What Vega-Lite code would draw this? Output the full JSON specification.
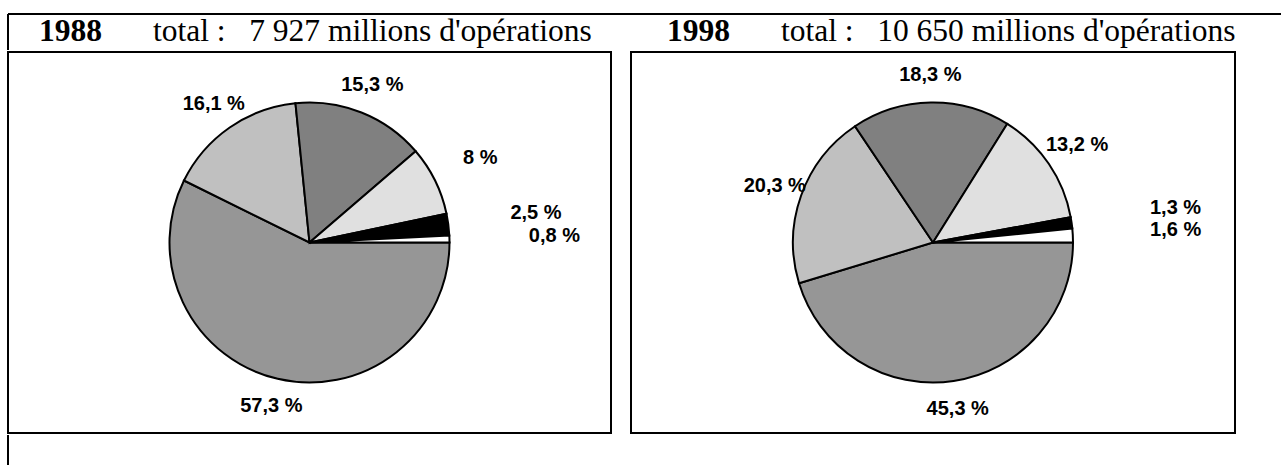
{
  "$schema": "https://vega.github.io/schema/vega-lite/v6.json",
  "padding": {"left": 7, "top": 13, "right": 0, "bottom": 0},
  "background": "white",
  "config": {"view": {"stroke": "black", "strokeWidth": 2}},
  "datasets": {
    "titres": [
      {"annee": "1988", "legende": "total :\u00a0\u00a0\u00a07\u00a0927 millions d'opérations"},
      {"annee": "1998", "legende": "total :\u00a0\u00a0\u00a010\u00a0650 millions d'opérations"}
    ],
    "a1988": [
      {"categorie": "Chèques", "ordre": 1, "part": 57.3, "etiquette": "57,3 %"},
      {"categorie": "Cartes", "ordre": 2, "part": 16.1, "etiquette": "16,1 %"},
      {"categorie": "Virements", "ordre": 3, "part": 15.3, "etiquette": "15,3 %"},
      {"categorie": "Prélèvements", "ordre": 4, "part": 8, "etiquette": "8 %"},
      {"categorie": "Effets", "ordre": 5, "part": 2.5, "etiquette": "2,5 %"},
      {"categorie": "TIP", "ordre": 6, "part": 0.8, "etiquette": "0,8 %"}
    ],
    "a1998": [
      {"categorie": "Chèques", "ordre": 1, "part": 45.3, "etiquette": "45,3 %"},
      {"categorie": "Cartes", "ordre": 2, "part": 20.3, "etiquette": "20,3 %"},
      {"categorie": "Virements", "ordre": 3, "part": 18.3, "etiquette": "18,3 %"},
      {"categorie": "Prélèvements", "ordre": 4, "part": 13.2, "etiquette": "13,2 %"},
      {"categorie": "Effets", "ordre": 5, "part": 1.3, "etiquette": "1,3 %"},
      {"categorie": "TIP", "ordre": 6, "part": 1.6, "etiquette": "1,6 %"}
    ]
  },
  "spacing": 0,
  "vconcat": [
    {
      "width": 1274, "height": 36,
      "view": {"stroke": "black", "strokeWidth": 2, "strokeDash": [1274, 1310, 36, 0]},
      "data": {"name": "titres"},
      "encoding": {"x": {"field": "annee", "type": "nominal", "scale": {"type": "point", "range": [31, 659], "padding": 0}, "axis": null}},
      "layer": [
        {"mark": {"type": "text", "align": "left", "dy": 0, "font": "Liberation Serif", "fontSize": 31.5, "fontWeight": "bold", "color": "black"}, "encoding": {"text": {"field": "annee"}}},
        {"mark": {"type": "text", "align": "left", "dx": 114, "dy": 0, "font": "Liberation Serif", "fontSize": 31.5, "color": "black"}, "encoding": {"text": {"field": "legende"}}}
      ]
    },
    {
      "spacing": 18,
      "hconcat": [
        {
          "width": 603, "height": 381,
          "view": {"stroke": "black", "strokeWidth": 2},
          "data": {"name": "a1988"},
          "encoding": {
            "theta": {"field": "part", "type": "quantitative", "stack": true, "scale": {"range": [1.5707963267948966, 7.853981633974483]}},
            "order": {"field": "ordre", "type": "quantitative"},
            "color": {"field": "categorie", "type": "nominal", "legend": null, "scale": {"domain": ["Chèques", "Cartes", "Virements", "Prélèvements", "Effets", "TIP"], "range": ["#969696", "#c0c0c0", "#808080", "#e0e0e0", "#000000", "#ffffff"]}}
          },
          "layer": [
            {"mark": {"type": "arc", "outerRadius": 140, "stroke": "black", "strokeWidth": 2}},
            {"mark": {"type": "text", "font": "Liberation Sans", "fontWeight": "bold", "fontSize": 20},
             "encoding": {
               "radius": {"field": "part", "type": "quantitative", "scale": {"type": "log", "domain": [1.5, 16], "range": [245, 168], "clamp": true}},
               "text": {"field": "etiquette"},
               "color": {"value": "black"}
             }}
          ]
        },
        {
          "width": 604, "height": 381,
          "view": {"stroke": "black", "strokeWidth": 2},
          "data": {"name": "a1998"},
          "encoding": {
            "theta": {"field": "part", "type": "quantitative", "stack": true, "scale": {"range": [1.5707963267948966, 7.853981633974483]}},
            "order": {"field": "ordre", "type": "quantitative"},
            "color": {"field": "categorie", "type": "nominal", "legend": null, "scale": {"domain": ["Chèques", "Cartes", "Virements", "Prélèvements", "Effets", "TIP"], "range": ["#969696", "#c0c0c0", "#808080", "#e0e0e0", "#000000", "#ffffff"]}}
          },
          "layer": [
            {"mark": {"type": "arc", "outerRadius": 140, "stroke": "black", "strokeWidth": 2}},
            {"mark": {"type": "text", "font": "Liberation Sans", "fontWeight": "bold", "fontSize": 20},
             "encoding": {
               "radius": {"field": "part", "type": "quantitative", "scale": {"type": "log", "domain": [1.5, 16], "range": [245, 168], "clamp": true}},
               "text": {"field": "etiquette"},
               "color": {"value": "black"}
             }}
          ]
        }
      ]
    },
    {
      "width": 1, "height": 30,
      "view": {"stroke": "black", "strokeWidth": 2, "strokeDash": [0, 32, 30, 0]},
      "data": {"values": []},
      "mark": "point"
    }
  ]
}
